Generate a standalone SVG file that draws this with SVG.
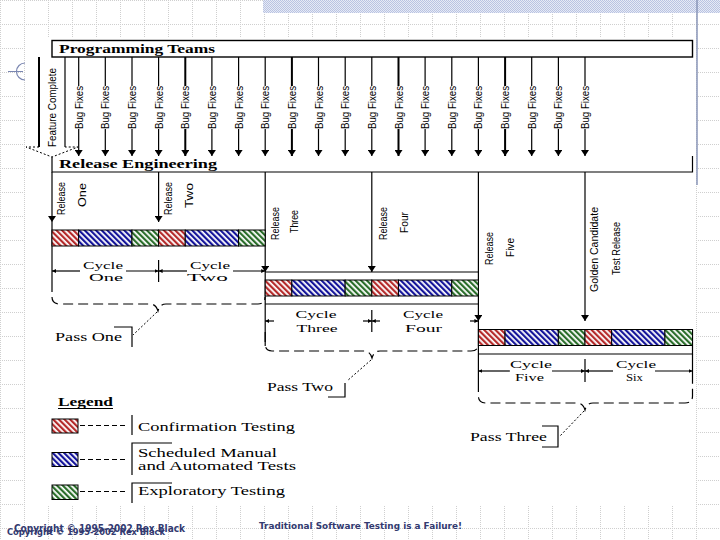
<svg xmlns="http://www.w3.org/2000/svg" width="720" height="540" viewBox="0 0 720 540">
<style>
.ln{stroke:#000;stroke-width:1.2;fill:none}
.thk{stroke:#000;stroke-width:2;fill:none}
.dsh{stroke:#000;stroke-width:1.2;fill:none;stroke-dasharray:10 5}
.dot{stroke:#000;stroke-width:1;fill:none;stroke-dasharray:2 2}
.bx{fill:#fff;stroke:#000;stroke-width:1.4}
.hd{font-family:"Liberation Serif",serif;font-weight:bold;font-size:11.5px;fill:#000}
.rot{font-family:"Liberation Sans",sans-serif;font-size:11.5px;fill:#000;text-anchor:middle;dominant-baseline:central}
.dim{font-family:"Liberation Serif",serif;font-size:10.5px;fill:#000;text-anchor:middle}
.lg{font-family:"Liberation Serif",serif;font-size:12px;fill:#000}
.ft{font-family:"DejaVu Sans",sans-serif;font-weight:bold;fill:#333a70}
.seg{stroke:#000;stroke-width:1}
</style>
<defs>
<pattern id="grid" width="24" height="24" patternUnits="userSpaceOnUse"><path d="M0 0.5H24M0.5 0V24" stroke="#cfcfcf" stroke-width="1" stroke-dasharray="1 1"/></pattern>
<pattern id="band" width="2" height="2" patternUnits="userSpaceOnUse"><rect width="2" height="2" fill="#e6eaf5"/><rect width="1" height="1" fill="#b9c3e2"/><rect x="1" y="1" width="1" height="1" fill="#b9c3e2"/></pattern>
<pattern id="pr" width="4" height="4" patternUnits="userSpaceOnUse" patternTransform="rotate(-45)"><rect width="4" height="4" fill="#fff"/><rect width="2.2" height="4" fill="#b52a2a"/></pattern>
<pattern id="pb" width="4" height="4" patternUnits="userSpaceOnUse" patternTransform="rotate(-45)"><rect width="4" height="4" fill="#fff"/><rect width="2.2" height="4" fill="#14149a"/></pattern>
<pattern id="pg" width="4" height="4" patternUnits="userSpaceOnUse" patternTransform="rotate(-45)"><rect width="4" height="4" fill="#fff"/><rect width="2.2" height="4" fill="#2a6e2a"/></pattern>
<marker id="ah" viewBox="0 0 6 8" refX="6" refY="4" markerWidth="6" markerHeight="8" markerUnits="userSpaceOnUse" orient="auto"><path d="M0,0L6,4L0,8z" fill="#000"/></marker>
<marker id="sa" viewBox="0 0 4 4" refX="4" refY="2" markerWidth="4" markerHeight="4" markerUnits="userSpaceOnUse" orient="auto"><path d="M0,0L4,2L0,4z" fill="#000"/></marker>
</defs>

<!-- background -->
<rect width="720" height="540" fill="#fff"/>
<rect width="720" height="540" fill="url(#grid)"/>
<rect x="263" y="0" width="457" height="13" fill="url(#band)"/>
<rect x="25" y="38" width="671" height="467" fill="#fff"/>
<path d="M697 0V185" stroke="#8a96b8" stroke-width="1.5"/>
<path d="M8 71.5H23M25 63A8 8 0 0 0 25 80" stroke="#7a86b0" stroke-width="1.2" fill="none"/>

<!-- header boxes -->
<g id="programming-teams">
<rect class="bx" x="52" y="40.5" width="640.5" height="16.5"/>
<text class="hd" x="59" y="52.5" textLength="156" lengthAdjust="spacingAndGlyphs">Programming Teams</text>
</g>
<g id="release-engineering">
<path class="ln" d="M52 157V172H692.5V156"/>
<text class="hd" x="59" y="167.5" textLength="158" lengthAdjust="spacingAndGlyphs">Release Engineering</text>
</g>
<g id="feature-complete">
<path class="thk" d="M39 57V147"/>
<path class="ln" d="M65 57V147"/>
<path class="dot" d="M39 147H26L52 157L78 147H65"/>
<text class="rot" transform="translate(51.5,107.5) rotate(-90)" textLength="79" lengthAdjust="spacingAndGlyphs" font-size="13">Feature Complete</text>
</g>

<!-- bug fixes -->
<g id="connectors">
<g id="bug-fixes">
<g id="bf1"><path class="ln" d="M78.7 57V86M78.7 129V156" marker-end="url(#ah)"/><text class="rot" transform="translate(78.7,107.5) rotate(-90)" textLength="43" lengthAdjust="spacingAndGlyphs">Bug Fixes</text></g>
<g id="bf2"><path class="ln" d="M105.3 57V86M105.3 129V156" marker-end="url(#ah)"/><text class="rot" transform="translate(105.3,107.5) rotate(-90)" textLength="43" lengthAdjust="spacingAndGlyphs">Bug Fixes</text></g>
<g id="bf3"><path class="ln" d="M132 57V86M132 129V156" marker-end="url(#ah)"/><text class="rot" transform="translate(132,107.5) rotate(-90)" textLength="43" lengthAdjust="spacingAndGlyphs">Bug Fixes</text></g>
<g id="bf4"><path class="ln" d="M158.6 57V86M158.6 129V156" marker-end="url(#ah)"/><text class="rot" transform="translate(158.6,107.5) rotate(-90)" textLength="43" lengthAdjust="spacingAndGlyphs">Bug Fixes</text></g>
<g id="bf5"><path class="thk" d="M185.3 57V86M185.3 129V156" marker-end="url(#ah)"/><text class="rot" transform="translate(185.3,107.5) rotate(-90)" textLength="43" lengthAdjust="spacingAndGlyphs">Bug Fixes</text></g>
<g id="bf6"><path class="ln" d="M211.9 57V86M211.9 129V156" marker-end="url(#ah)"/><text class="rot" transform="translate(211.9,107.5) rotate(-90)" textLength="43" lengthAdjust="spacingAndGlyphs">Bug Fixes</text></g>
<g id="bf7"><path class="ln" d="M238.6 57V86M238.6 129V156" marker-end="url(#ah)"/><text class="rot" transform="translate(238.6,107.5) rotate(-90)" textLength="43" lengthAdjust="spacingAndGlyphs">Bug Fixes</text></g>
<g id="bf8"><path class="ln" d="M265.2 57V86M265.2 129V156" marker-end="url(#ah)"/><text class="rot" transform="translate(265.2,107.5) rotate(-90)" textLength="43" lengthAdjust="spacingAndGlyphs">Bug Fixes</text></g>
<g id="bf9"><path class="thk" d="M291.9 57V86M291.9 129V156" marker-end="url(#ah)"/><text class="rot" transform="translate(291.9,107.5) rotate(-90)" textLength="43" lengthAdjust="spacingAndGlyphs">Bug Fixes</text></g>
<g id="bf10"><path class="ln" d="M318.5 57V86M318.5 129V156" marker-end="url(#ah)"/><text class="rot" transform="translate(318.5,107.5) rotate(-90)" textLength="43" lengthAdjust="spacingAndGlyphs">Bug Fixes</text></g>
<g id="bf11"><path class="ln" d="M345.2 57V86M345.2 129V156" marker-end="url(#ah)"/><text class="rot" transform="translate(345.2,107.5) rotate(-90)" textLength="43" lengthAdjust="spacingAndGlyphs">Bug Fixes</text></g>
<g id="bf12"><path class="ln" d="M371.8 57V86M371.8 129V156" marker-end="url(#ah)"/><text class="rot" transform="translate(371.8,107.5) rotate(-90)" textLength="43" lengthAdjust="spacingAndGlyphs">Bug Fixes</text></g>
<g id="bf13"><path class="thk" d="M398.5 57V86M398.5 129V156" marker-end="url(#ah)"/><text class="rot" transform="translate(398.5,107.5) rotate(-90)" textLength="43" lengthAdjust="spacingAndGlyphs">Bug Fixes</text></g>
<g id="bf14"><path class="ln" d="M425.1 57V86M425.1 129V156" marker-end="url(#ah)"/><text class="rot" transform="translate(425.1,107.5) rotate(-90)" textLength="43" lengthAdjust="spacingAndGlyphs">Bug Fixes</text></g>
<g id="bf15"><path class="ln" d="M451.8 57V86M451.8 129V156" marker-end="url(#ah)"/><text class="rot" transform="translate(451.8,107.5) rotate(-90)" textLength="43" lengthAdjust="spacingAndGlyphs">Bug Fixes</text></g>
<g id="bf16"><path class="ln" d="M478.4 57V86M478.4 129V156" marker-end="url(#ah)"/><text class="rot" transform="translate(478.4,107.5) rotate(-90)" textLength="43" lengthAdjust="spacingAndGlyphs">Bug Fixes</text></g>
<g id="bf17"><path class="thk" d="M505.1 57V86M505.1 129V156" marker-end="url(#ah)"/><text class="rot" transform="translate(505.1,107.5) rotate(-90)" textLength="43" lengthAdjust="spacingAndGlyphs">Bug Fixes</text></g>
<g id="bf18"><path class="ln" d="M531.7 57V86M531.7 129V156" marker-end="url(#ah)"/><text class="rot" transform="translate(531.7,107.5) rotate(-90)" textLength="43" lengthAdjust="spacingAndGlyphs">Bug Fixes</text></g>
<g id="bf19"><path class="ln" d="M558.4 57V86M558.4 129V156" marker-end="url(#ah)"/><text class="rot" transform="translate(558.4,107.5) rotate(-90)" textLength="43" lengthAdjust="spacingAndGlyphs">Bug Fixes</text></g>
<g id="bf20"><path class="ln" d="M585 57V86M585 129V156" marker-end="url(#ah)"/><text class="rot" transform="translate(585,107.5) rotate(-90)" textLength="43" lengthAdjust="spacingAndGlyphs">Bug Fixes</text></g>
</g>

<!-- release arrows -->
<g id="release-arrows">
<path class="ln" d="M52 172V222" marker-end="url(#ah)"/>
<path class="ln" d="M52 222V282"/>
<path class="ln" d="M158.6 172V222" marker-end="url(#ah)"/>
<path class="ln" d="M265.2 172V272" marker-end="url(#ah)"/>
<path class="ln" d="M265.2 272V346"/>
<path class="ln" d="M371.8 172V272" marker-end="url(#ah)"/>
<path class="ln" d="M478.4 172V321" marker-end="url(#ah)"/>
<path class="ln" d="M478.4 321V382"/>
<path class="ln" d="M585 172V321" marker-end="url(#ah)"/>
</g>

<!-- dimension lines -->
<g id="dimensions">
<path class="ln" d="M158.6 260V282M371.8 310V332M585 359V382M692.5 354V382"/>
<path class="ln" d="M80 271H52" marker-end="url(#sa)"/>
<path class="ln" d="M126 271H158.6" marker-end="url(#sa)"/>
<path class="ln" d="M187 271H158.6" marker-end="url(#sa)"/>
<path class="ln" d="M233 271H265.2" marker-end="url(#sa)"/>
<path class="ln" d="M274 321H265.2" marker-end="url(#sa)"/>
<path class="ln" d="M363 321H371.8" marker-end="url(#sa)"/>
<path class="ln" d="M380 321H371.8" marker-end="url(#sa)"/>
<path class="ln" d="M470 321H478.4" marker-end="url(#sa)"/>
<path class="ln" d="M510 371H478.4" marker-end="url(#sa)"/>
<path class="ln" d="M552 371H585" marker-end="url(#sa)"/>
<path class="ln" d="M613 371H585" marker-end="url(#sa)"/>
<path class="ln" d="M655 371H692.5" marker-end="url(#sa)"/>
</g>

<!-- braces and callouts -->
<g id="braces">
<path class="dsh" d="M52 282V297Q52 304 60 304H150Q156 304 158 311Q160 304 166 304H258Q265 304 265 297"/>
<path class="dsh" d="M265.2 332V344Q265.2 351 272 351H364Q370 351 372 358Q374 351 380 351H471Q478.4 351 478.4 344"/>
<path class="dsh" d="M478.4 382V396Q478.4 403 486 403H577Q583 403 585 410Q587 403 593 403H685Q692.5 403 692.5 396V382"/>
<path class="dot" d="M157 312L133 335M371 360L347 381M584 411L560 436"/>
<path class="ln" d="M114 327H132V347M328 397H345V383M542 426H558V447H542"/>
</g>
</g>

<!-- release labels -->
<g id="release-one"><text class="rot" transform="translate(61,198.5) rotate(-90)" textLength="33" lengthAdjust="spacingAndGlyphs">Release</text><text class="rot" transform="translate(82,195) rotate(-90)" textLength="24" lengthAdjust="spacingAndGlyphs">One</text></g>
<g id="release-two"><text class="rot" transform="translate(167.5,198.5) rotate(-90)" textLength="33" lengthAdjust="spacingAndGlyphs">Release</text><text class="rot" transform="translate(189,195.5) rotate(-90)" textLength="25" lengthAdjust="spacingAndGlyphs">Two</text></g>
<g id="release-three"><text class="rot" transform="translate(275,223.5) rotate(-90)" textLength="33" lengthAdjust="spacingAndGlyphs">Release</text><text class="rot" transform="translate(294,221.5) rotate(-90)" textLength="23" lengthAdjust="spacingAndGlyphs">Three</text></g>
<g id="release-four"><text class="rot" transform="translate(382.5,223.5) rotate(-90)" textLength="33" lengthAdjust="spacingAndGlyphs">Release</text><text class="rot" transform="translate(404,222.5) rotate(-90)" textLength="21" lengthAdjust="spacingAndGlyphs">Four</text></g>
<g id="release-five"><text class="rot" transform="translate(489,248.5) rotate(-90)" textLength="33" lengthAdjust="spacingAndGlyphs">Release</text><text class="rot" transform="translate(510,247.5) rotate(-90)" textLength="19" lengthAdjust="spacingAndGlyphs">Five</text></g>
<g id="golden-candidate"><text class="rot" transform="translate(594,249.5) rotate(-90)" textLength="85" lengthAdjust="spacingAndGlyphs">Golden Candidate</text><text class="rot" transform="translate(616,248.5) rotate(-90)" textLength="53" lengthAdjust="spacingAndGlyphs">Test Release</text></g>

<!-- pass one bar -->
<g id="pass-one">
<rect class="seg" x="52" y="230" width="26.65" height="16" fill="url(#pr)"/>
<rect class="seg" x="78.65" y="230" width="53.3" height="16" fill="url(#pb)"/>
<rect class="seg" x="131.95" y="230" width="26.65" height="16" fill="url(#pg)"/>
<rect class="seg" x="158.6" y="230" width="26.65" height="16" fill="url(#pr)"/>
<rect class="seg" x="185.25" y="230" width="53.3" height="16" fill="url(#pb)"/>
<rect class="seg" x="238.55" y="230" width="26.65" height="16" fill="url(#pg)"/>
<text class="dim" x="103" y="268.5" textLength="40" lengthAdjust="spacingAndGlyphs">Cycle</text>
<text class="dim" x="106" y="281" textLength="34" lengthAdjust="spacingAndGlyphs">One</text>
<text class="dim" x="210" y="268.5" textLength="40" lengthAdjust="spacingAndGlyphs">Cycle</text>
<text class="dim" x="207.5" y="281" textLength="41" lengthAdjust="spacingAndGlyphs">Two</text>
<text class="lg" x="55" y="341" textLength="67" lengthAdjust="spacingAndGlyphs">Pass One</text>
</g>

<!-- pass two bar -->
<g id="pass-two">
<path class="ln" d="M265.2 272H478.4M265.2 304H478.4"/>
<rect class="seg" x="265.2" y="280" width="26.65" height="16" fill="url(#pr)"/>
<rect class="seg" x="291.85" y="280" width="53.3" height="16" fill="url(#pb)"/>
<rect class="seg" x="345.15" y="280" width="26.65" height="16" fill="url(#pg)"/>
<rect class="seg" x="371.8" y="280" width="26.65" height="16" fill="url(#pr)"/>
<rect class="seg" x="398.45" y="280" width="53.3" height="16" fill="url(#pb)"/>
<rect class="seg" x="451.75" y="280" width="26.65" height="16" fill="url(#pg)"/>
<text class="dim" x="316" y="317.5" textLength="41" lengthAdjust="spacingAndGlyphs">Cycle</text>
<text class="dim" x="317" y="332" textLength="41" lengthAdjust="spacingAndGlyphs">Three</text>
<text class="dim" x="423" y="317.5" textLength="40" lengthAdjust="spacingAndGlyphs">Cycle</text>
<text class="dim" x="423.5" y="332" textLength="37" lengthAdjust="spacingAndGlyphs">Four</text>
<text class="lg" x="267" y="390.5" textLength="66" lengthAdjust="spacingAndGlyphs">Pass Two</text>
</g>

<!-- pass three bar -->
<g id="pass-three">
<path class="ln" d="M478.4 354H692.5V329.5"/>
<rect class="seg" x="478.4" y="329.5" width="26.65" height="16" fill="url(#pr)"/>
<rect class="seg" x="505.05" y="329.5" width="53.3" height="16" fill="url(#pb)"/>
<rect class="seg" x="558.35" y="329.5" width="26.65" height="16" fill="url(#pg)"/>
<rect class="seg" x="585" y="329.5" width="26.65" height="16" fill="url(#pr)"/>
<rect class="seg" x="611.65" y="329.5" width="53.3" height="16" fill="url(#pb)"/>
<rect class="seg" x="664.95" y="329.5" width="27.55" height="16" fill="url(#pg)"/>
<text class="dim" x="531" y="367.5" textLength="42" lengthAdjust="spacingAndGlyphs">Cycle</text>
<text class="dim" x="529.5" y="380.5" font-size="9.5" textLength="29" lengthAdjust="spacingAndGlyphs">Five</text>
<text class="dim" x="636" y="367.5" textLength="40" lengthAdjust="spacingAndGlyphs">Cycle</text>
<text class="dim" x="634.5" y="380.5" font-size="9.5" textLength="17" lengthAdjust="spacingAndGlyphs">Six</text>
<text class="lg" x="470" y="440.5" textLength="77" lengthAdjust="spacingAndGlyphs">Pass Three</text>
</g>

<!-- legend -->
<g id="legend">
<text class="lg" x="58" y="406" font-weight="bold" textLength="55" lengthAdjust="spacingAndGlyphs">Legend</text>
<path d="M58 408.5H113" stroke="#000" stroke-width="1"/>
<g id="legend-confirmation">
<rect class="seg" x="52" y="419" width="26" height="14" fill="url(#pr)"/>
<path d="M80 425.5H128" stroke="#000" stroke-width="1.2" stroke-dasharray="5 3"/>
<path class="ln" d="M132 415V435"/>
<text class="lg" x="138" y="430.5" textLength="157" lengthAdjust="spacingAndGlyphs">Confirmation Testing</text>
</g>
<g id="legend-scheduled">
<rect class="seg" x="52" y="452.5" width="26" height="14" fill="url(#pb)"/>
<path d="M80 459.5H128" stroke="#000" stroke-width="1.2" stroke-dasharray="5 3"/>
<path class="ln" d="M172 443H132V475"/>
<text class="lg" x="138" y="457" textLength="139" lengthAdjust="spacingAndGlyphs">Scheduled Manual</text>
<text class="lg" x="138" y="469.5" textLength="158" lengthAdjust="spacingAndGlyphs">and Automated Tests</text>
</g>
<g id="legend-exploratory">
<rect class="seg" x="52" y="485" width="26" height="14.5" fill="url(#pg)"/>
<path d="M80 491.5H128" stroke="#000" stroke-width="1.2" stroke-dasharray="5 3"/>
<path class="ln" d="M172 483H132V503"/>
<text class="lg" x="138" y="494.5" textLength="147" lengthAdjust="spacingAndGlyphs">Exploratory Testing</text>
</g>
</g>

<!-- footer -->
<g id="footer">
<text class="ft" x="7" y="535" font-size="8" textLength="158" lengthAdjust="spacingAndGlyphs">Copyright © 1995-2002 Rex Black</text>
<text class="ft" x="14" y="532" font-size="10" textLength="171" lengthAdjust="spacingAndGlyphs">Copyright © 1995-2002 Rex Black</text>
<text class="ft" x="259" y="529" font-size="9.5" textLength="203" lengthAdjust="spacingAndGlyphs">Traditional Software Testing is a Failure!</text>
</g>
</svg>
